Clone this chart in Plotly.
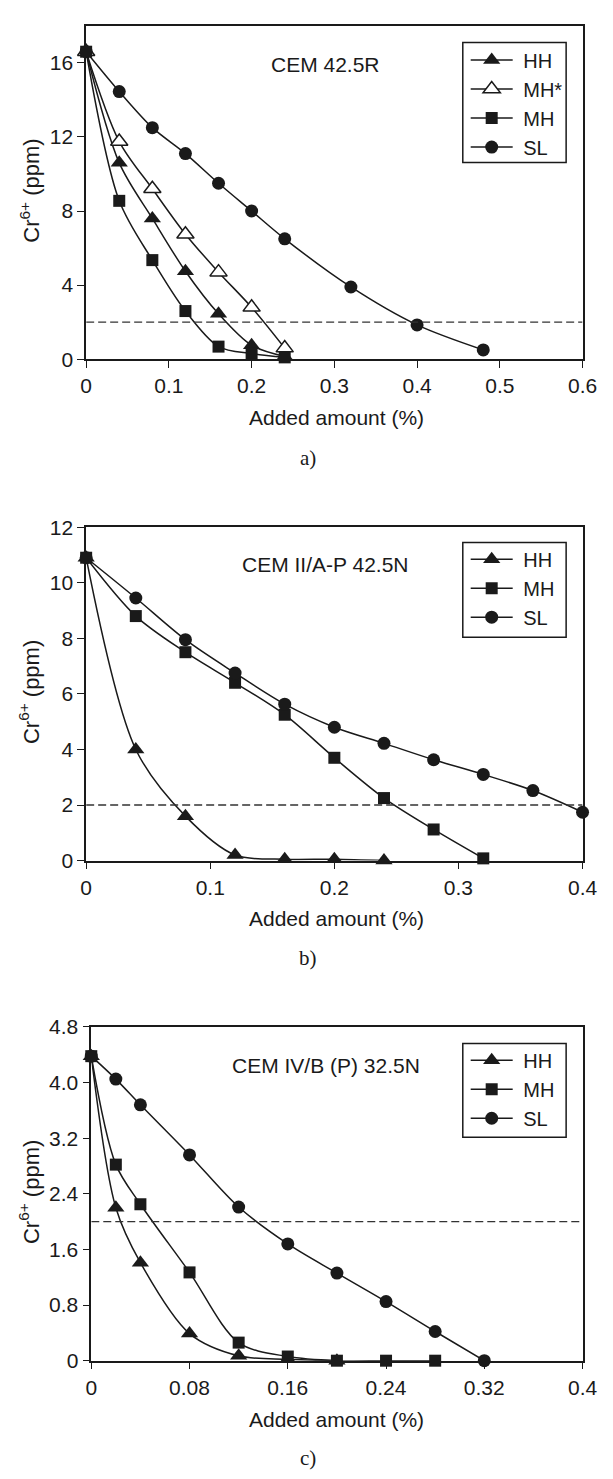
import plotly.graph_objects as go

W, H = 613, 1479

# ---------------- Data ----------------
# Panel a) CEM 42.5R
a_x_hh = [0, 0.04, 0.08, 0.12, 0.16, 0.20, 0.24]
a_hh = [16.6, 10.6, 7.6, 4.75, 2.45, 0.75, 0.15]
a_x_mhs = [0, 0.04, 0.08, 0.12, 0.16, 0.20, 0.24]
a_mhs = [16.6, 11.75, 9.2, 6.75, 4.7, 2.8, 0.6]
a_x_mh = [0, 0.04, 0.08, 0.12, 0.16, 0.20, 0.24]
a_mh = [16.6, 8.55, 5.35, 2.6, 0.68, 0.3, 0.1]
a_x_sl = [0, 0.04, 0.08, 0.12, 0.16, 0.20, 0.24, 0.32, 0.40, 0.48]
a_sl = [16.6, 14.45, 12.5, 11.1, 9.5, 8.0, 6.5, 3.9, 1.85, 0.5]

# Panel b) CEM II/A-P 42.5N
b_x_hh = [0, 0.04, 0.08, 0.12, 0.16, 0.20, 0.24]
b_hh = [10.9, 4.0, 1.6, 0.2, 0.05, 0.05, 0.0]
b_x_mh = [0, 0.04, 0.08, 0.12, 0.16, 0.20, 0.24, 0.28, 0.32]
b_mh = [10.9, 8.8, 7.5, 6.4, 5.25, 3.7, 2.25, 1.12, 0.08]
b_x_sl = [0, 0.04, 0.08, 0.12, 0.16, 0.20, 0.24, 0.28, 0.32, 0.36, 0.40]
b_sl = [10.9, 9.45, 7.95, 6.75, 5.63, 4.8, 4.22, 3.63, 3.1, 2.52, 1.74]

# Panel c) CEM IV/B (P) 32.5N
c_x_hh = [0, 0.02, 0.04, 0.08, 0.12, 0.16, 0.20]
c_hh = [4.38, 2.2, 1.41, 0.39, 0.07, 0.02, 0.0]
c_x_mh = [0, 0.02, 0.04, 0.08, 0.12, 0.16, 0.20, 0.24, 0.28]
c_mh = [4.38, 2.82, 2.25, 1.27, 0.26, 0.06, 0.0, 0.0, 0.0]
c_x_sl = [0, 0.02, 0.04, 0.08, 0.12, 0.16, 0.20, 0.24, 0.28, 0.32]
c_sl = [4.38, 4.05, 3.68, 2.96, 2.21, 1.68, 1.26, 0.85, 0.42, 0.0]

limit_value = 2.0

a_yticks = [0, 4, 8, 12, 16]
a_ytext = ["0", "4", "8", "12", "16"]
b_yticks = [0, 2, 4, 6, 8, 10, 12]
b_ytext = ["0", "2", "4", "6", "8", "10", "12"]
c_yticks = [0, 0.8, 1.6, 2.4, 3.2, 4.0, 4.8]
c_ytext = ["0", "0.8", "1.6", "2.4", "3.2", "4.0", "4.8"]
a_xticks = [0, 0.1, 0.2, 0.3, 0.4, 0.5, 0.6]
a_xtext = ["0", "0.1", "0.2", "0.3", "0.4", "0.5", "0.6"]
b_xticks = [0, 0.1, 0.2, 0.3, 0.4]
b_xtext = ["0", "0.1", "0.2", "0.3", "0.4"]
c_xticks = [0, 0.08, 0.16, 0.24, 0.32, 0.4]
c_xtext = ["0", "0.08", "0.16", "0.24", "0.32", "0.4"]

panel_titles = ["CEM 42.5R", "CEM II/A-P 42.5N", "CEM IV/B (P) 32.5N"]
captions = ["a)", "b)", "c)"]

# ---------------- Styling ----------------
FONT = "Liberation Sans, Arial, sans-serif"
SERIF = "Liberation Serif, Times New Roman, serif"
INK = "#1a1a1a"
NBSP = "\u00a0"


def px_x(p):
    return p / W


def px_y(p):
    return 1 - p / H


fig = go.Figure()

sym = {"HH": "triangle-up", "MH*": "triangle-up", "MH": "square", "SL": "circle"}
msize = {"HH": 15, "MH*": 15, "MH": 12, "SL": 13}


def add(x, y, name, axis_idx, legend):
    open_ = name == "MH*"
    fig.add_trace(go.Scatter(
        x=x, y=y, name=NBSP + name, mode="lines+markers",
        line=dict(color=INK, width=1.5, shape="spline", smoothing=0.9),
        marker=dict(symbol=sym[name], size=msize[name],
                    color="white" if open_ else INK,
                    line=dict(color=INK, width=1.5 if open_ else 0)),
        xaxis="x" if axis_idx == 1 else f"x{axis_idx}",
        yaxis="y" if axis_idx == 1 else f"y{axis_idx}",
        legend=legend, cliponaxis=False,
    ))


add(a_x_hh, a_hh, "HH", 1, "legend")
add(a_x_mhs, a_mhs, "MH*", 1, "legend")
add(a_x_mh, a_mh, "MH", 1, "legend")
add(a_x_sl, a_sl, "SL", 1, "legend")

add(b_x_hh, b_hh, "HH", 2, "legend2")
add(b_x_mh, b_mh, "MH", 2, "legend2")
add(b_x_sl, b_sl, "SL", 2, "legend2")

add(c_x_hh, c_hh, "HH", 3, "legend3")
add(c_x_mh, c_mh, "MH", 3, "legend3")
add(c_x_sl, c_sl, "SL", 3, "legend3")

# panel geometry in pixels: (left, right, top, bottom)
geo = [(83, 597, 14, 352.7), (83, 597, 523.3, 862), (88.3, 597, 1031, 1370)]
xr = [[0, 0.6], [0, 0.4], [0, 0.4]]
yr = [[0, 18], [0, 12], [0, 4.8]]
xt = [(a_xticks, a_xtext), (b_xticks, b_xtext), (c_xticks, c_xtext)]
yt = [(a_yticks, a_ytext), (b_yticks, b_ytext), (c_yticks, c_ytext)]
# legend boxes in pixels: (left, right, top, bottom)
leg_boxes = [(473, 580, 31, 153), (473, 580, 539, 635), (473, 580, 1047.7, 1143)]

layout = {}
annotations = []
shapes = []
for i, (l, r, t, b) in enumerate(geo):
    k = "" if i == 0 else str(i + 1)
    axcommon = dict(showline=True, linecolor=INK, linewidth=1.5, mirror=True,
                    showgrid=False, zeroline=False, ticks="outside", ticklen=7,
                    tickwidth=1.2, tickcolor=INK,
                    tickfont=dict(family=FONT, size=21, color=INK))
    layout[f"xaxis{k}"] = dict(axcommon, domain=[px_x(l), px_x(r)], range=xr[i],
                               anchor=f"y{k}", tickvals=xt[i][0], ticktext=xt[i][1])
    layout[f"yaxis{k}"] = dict(axcommon, domain=[px_y(b), px_y(t)], range=yr[i],
                               anchor=f"x{k}", tickvals=yt[i][0], ticktext=yt[i][1])
    # dashed limit line
    shapes.append(dict(type="line", xref=f"x{k}", yref=f"y{k}",
                       x0=xr[i][0], x1=xr[i][1], y0=limit_value, y1=limit_value,
                       line=dict(color="#333333", width=1.3, dash="8px,4px")))
    # legend frame
    ll, lr, lt, lb = leg_boxes[i]
    shapes.append(dict(type="rect", xref="paper", yref="paper",
                       x0=px_x(ll), x1=px_x(lr), y0=px_y(lb), y1=px_y(lt),
                       line=dict(color=INK, width=1.5), fillcolor="rgba(0,0,0,0)",
                       layer="above"))
    # panel title
    title_y = [53, 561.7, 1070][i]
    annotations.append(dict(text=panel_titles[i], xref="paper", yref="paper",
                            x=px_x(331), y=px_y(title_y), xanchor="center", yanchor="middle",
                            showarrow=False, font=dict(family=FONT, size=21, color=INK)))
    # x-axis title
    xt_y = [411.7, 921, 1430][i]
    annotations.append(dict(text="Added amount (%)", xref="paper", yref="paper",
                            x=px_x(342), y=px_y(xt_y), xanchor="center", yanchor="middle",
                            showarrow=False, font=dict(family=FONT, size=21, color=INK)))
    # y-axis title
    yc = (t + b) / 2 - 2
    annotations.append(dict(text="Cr<sup>6+</sup> (ppm)", xref="paper", yref="paper",
                            x=px_x(24), y=px_y(yc), xanchor="center", yanchor="middle",
                            textangle=-90, showarrow=False,
                            font=dict(family=FONT, size=22, color=INK)))
    # caption
    cap_y = [453, 961, 1469][i]
    annotations.append(dict(text=captions[i], xref="paper", yref="paper",
                            x=px_x(313), y=px_y(cap_y), xanchor="center", yanchor="middle",
                            showarrow=False, font=dict(family=SERIF, size=21, color=INK)))

leg_common = dict(bgcolor="rgba(0,0,0,0)", borderwidth=0, itemwidth=42,
                  font=dict(family=FONT, size=20, color=INK),
                  xanchor="left", yanchor="top", tracegroupgap=0)
layout["legend"] = dict(leg_common, x=px_x(476), y=px_y(29))
layout["legend2"] = dict(leg_common, x=px_x(476), y=px_y(536))
layout["legend3"] = dict(leg_common, x=px_x(476), y=px_y(1045))

fig.update_layout(
    width=W, height=H,
    margin=dict(l=0, r=0, t=0, b=0),
    paper_bgcolor="white", plot_bgcolor="white",
    showlegend=True,
    annotations=annotations, shapes=shapes,
    **layout,
)

fig.write_html("out.html")
